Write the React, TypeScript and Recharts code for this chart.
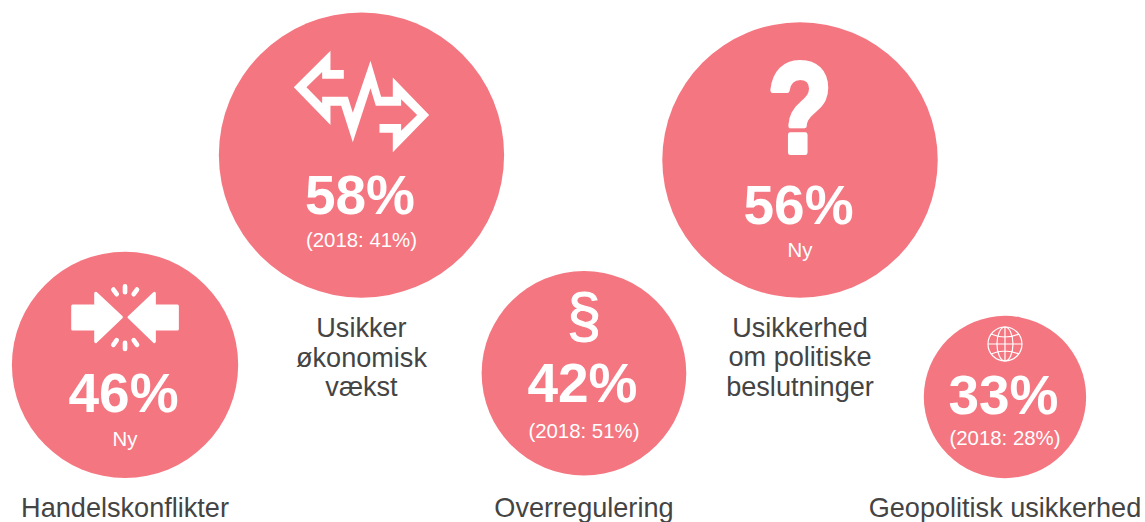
import React from 'react';
import { ScatterChart, Scatter, XAxis, YAxis, ZAxis } from 'recharts';

const W = 1145;
const H = 522;
const FONT = '"Liberation Sans", Arial, sans-serif';
const BUBBLE = '#f47680';
const INK = '#444444';

const topics = ['Handelskonflikter', 'Usikker økonomisk vækst', 'Overregulering', 'Usikkerhed om politiske beslutninger', 'Geopolitisk usikkerhed'];
const labelLines = [['Handelskonflikter'], ['Usikker', 'økonomisk', 'vækst'], ['Overregulering'], ['Usikkerhed', 'om politiske', 'beslutninger'], ['Geopolitisk usikkerhed']];
const shares = [46, 58, 42, 56, 33];
const bubbleSizes = [46, 58, 41.6, 56, 33];
const notes = ['Ny', '(2018: 41%)', '(2018: 51%)', 'Ny', '(2018: 28%)'];
const bubbleX = [10.92, 31.57, 51.0, 69.87, 87.77];
const bubbleY = [69.9, 29.7, 71.5, 30.65, 76.05];
const icons = ['clash', 'volatile', 'paragraph', 'question', 'globe'];

const data = topics.map((topic, i) => ({
  topic,
  x: bubbleX[i],
  y: bubbleY[i],
  share: shares[i],
  area: bubbleSizes[i] * bubbleSizes[i],
  note: notes[i],
  lines: labelLines[i],
  icon: icons[i],
}));

// vertical offsets of the texts inside and below each bubble
const pctDy: Record<string, number> = { clash: 47, volatile: 59, paragraph: 29, question: 64, globe: 17 };
const noteDy: Record<string, number> = { clash: 34, volatile: 33, paragraph: 36, question: 33, globe: 31 };
const labelDy: Record<string, number> = { clash: 152, volatile: 182, paragraph: 144, question: 177, globe: 120 };

const Icon = ({ name, cx, cy }: { name: string; cx: number; cy: number }) => {
  if (name === 'volatile') {
    return (
      <g transform={`translate(${cx},${cy}) scale(0.3333) translate(-273,-375)`} fill="#fff">
        <path d="M70 172L180 62V120H220V146H155V126L108 172L155 220V200H232L247 248L300 92L332 200H367V142L476 255L367 367V308H327V282H392V302L440 255L392 208V227H316L300 175L247 337L212 227H180V285Z" />
      </g>
    );
  }
  if (name === 'clash') {
    return (
      <g transform={`translate(${cx},${cy}) scale(0.3333) translate(-195,-270)`} fill="#fff" stroke="#fff" strokeLinejoin="round" strokeLinecap="round">
        <path strokeWidth={9} d="M38 93H107V55L184 127L107 200V162H38Z" />
        <path strokeWidth={9} d="M352 93H283V55L207 127L283 200V162H352Z" />
        <g strokeWidth={14} fill="none">
          <path d="M160 44L170 58M195 34V52M231 44L221 58M160 210L170 196M195 204V222M231 210L221 196" />
        </g>
      </g>
    );
  }
  if (name === 'paragraph') {
    return <text x={cx} y={cy - 37} textAnchor="middle" fontFamily={FONT} fontSize={62} fill="#fff" stroke="#fff" strokeWidth={1}>§</text>;
  }
  if (name === 'question') {
    return (
      <text transform={`translate(${cx},${cy - 8}) scale(0.95,1.16)`} textAnchor="middle" fontFamily={FONT} fontWeight="bold" fontSize={110} fill="#fff" stroke="#fff" strokeWidth={5} strokeLinejoin="round">?</text>
    );
  }
  const gx = cx;
  const gy = cy - 53;
  return (
    <g fill="none" stroke="#fff" strokeWidth={1.2}>
      <circle cx={gx} cy={gy} r={17} />
      <ellipse cx={gx} cy={gy} rx={8} ry={17} />
      <path d={`M${gx} ${gy - 17}V${gy + 17}M${gx - 17} ${gy}H${gx + 17}M${gx - 14} ${gy - 10}Q${gx} ${gy - 4} ${gx + 14} ${gy - 10}M${gx - 14} ${gy + 10}Q${gx} ${gy + 4} ${gx + 14} ${gy + 10}`} />
    </g>
  );
};

const Bubble = (props: any) => {
  const { cx, cy, width, payload } = props;
  const p = payload;
  const r = width / 2;
  const base = cy + pctDy[p.icon];
  return (
    <g>
      <circle cx={cx} cy={cy} r={r} fill={BUBBLE} />
      <Icon name={p.icon} cx={cx} cy={cy} />
      <text x={cx - 1.5} y={base} textAnchor="middle" fontFamily={FONT} fontWeight="bold" fontSize={55} fill="#fff">{p.share}%</text>
      <text x={cx} y={base + noteDy[p.icon]} textAnchor="middle" fontFamily={FONT} fontSize={20.4} fill="#fff">{p.note}</text>
      {p.lines.map((line: string, i: number) => (
        <text key={line} x={cx} y={cy + labelDy[p.icon] + i * 29.5} textAnchor="middle" fontFamily={FONT} fontSize={27.1} fill={INK}>{line}</text>
      ))}
    </g>
  );
};

export default function App() {
  return (
    <div style={{ position: 'absolute', left: 0, top: 0, width: W, height: H, background: '#fff' }}>
      <ScatterChart width={W} height={H} margin={{ top: 0, right: 0, bottom: 0, left: 0 }}>
        <XAxis type="number" dataKey="x" domain={[0, 100]} hide />
        <YAxis type="number" dataKey="y" domain={[0, 100]} reversed hide />
        <ZAxis type="number" dataKey="area" domain={[0, 3600]} range={[0, 68400]} />
        <Scatter data={data} shape={Bubble} isAnimationActive={false} />
      </ScatterChart>
    </div>
  );
}
